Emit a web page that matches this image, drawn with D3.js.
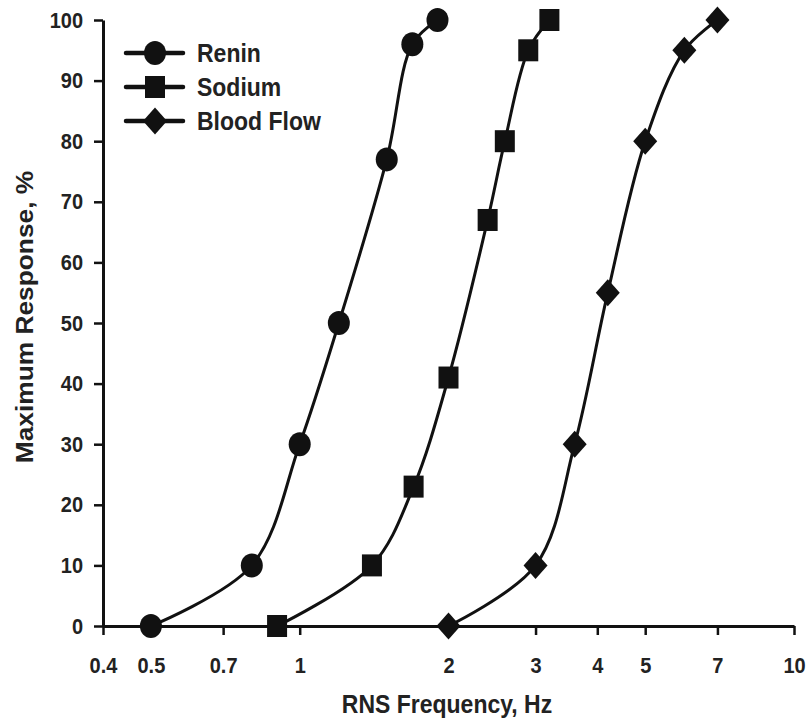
<!DOCTYPE html>
<html>
<head>
<meta charset="utf-8">
<script src="https://cdn.jsdelivr.net/npm/d3@7"></script>
<style>
  html, body { margin: 0; padding: 0; background: #fff; }
  svg { display: block; }
  text { font-family: "Liberation Sans", Arial, sans-serif; fill: #222; }
</style>
</head>
<body>
<div id="chart"></div>
<script>
// ---- data ----
const xTicks = [0.4, 0.5, 0.7, 1, 2, 3, 4, 5, 7, 10];
const xTickLabels = ["0.4", "0.5", "0.7", "1", "2", "3", "4", "5", "7", "10"];
const yTicks = [0, 10, 20, 30, 40, 50, 60, 70, 80, 90, 100];

const seriesNames = ["Renin", "Sodium", "Blood Flow"];
const reninX = [0.5, 0.8, 1.0, 1.2, 1.5, 1.69, 1.9];
const reninY = [0, 10, 30, 50, 77, 96, 100];
const sodiumX = [0.9, 1.4, 1.7, 2.0, 2.4, 2.6, 2.9, 3.2];
const sodiumY = [0, 10, 23, 41, 67, 80, 95, 100];
const bloodX = [2.0, 3.0, 3.6, 4.2, 5.0, 6.0, 7.0];
const bloodY = [0, 10, 30, 55, 80, 95, 100];

const xLabel = "RNS Frequency, Hz";
const yLabel = "Maximum Response, %";

// ---- layout ----
const W = 807, H = 726;
const SY = 1.12; // vertical stretch of the original figure
const svg = d3.select("#chart").append("svg").attr("width", W).attr("height", H);

const x = d3.scaleLog().domain([0.4, 10]).range([103, 794]);
const y = d3.scaleLinear().domain([0, 100]).range([626, 20]);
const ink = "#111";

const series = [
  { name: seriesNames[0], shape: "circle", pts: reninX.map((v, i) => [v, reninY[i]]) },
  { name: seriesNames[1], shape: "square", pts: sodiumX.map((v, i) => [v, sodiumY[i]]) },
  { name: seriesNames[2], shape: "diamond", pts: bloodX.map((v, i) => [v, bloodY[i]]) }
];

function marker(g, shape, cx, cy) {
  if (shape === "circle") {
    g.append("ellipse").attr("cx", cx).attr("cy", cy).attr("rx", 11).attr("ry", 12).attr("fill", ink);
  } else if (shape === "square") {
    g.append("rect").attr("x", cx - 10).attr("y", cy - 11).attr("width", 20).attr("height", 22).attr("fill", ink);
  } else {
    const rx = 12, ry = 13.5;
    g.append("path").attr("d", `M${cx},${cy - ry}L${cx + rx},${cy}L${cx},${cy + ry}L${cx - rx},${cy}Z`).attr("fill", ink);
  }
}

// axes
const xAxis = d3.axisBottom(x).tickValues(xTicks).tickFormat((d, i) => xTickLabels[i]).tickSize(9).tickSizeOuter(0);
const gx = svg.append("g").attr("transform", `translate(0,${y(0)})`).call(xAxis);
gx.select(".domain").attr("stroke", ink).attr("stroke-width", 3);
gx.selectAll(".tick line").attr("stroke", ink).attr("stroke-width", 2.5);
gx.selectAll(".tick text").attr("font-size", 20).attr("font-weight", "bold").attr("fill", "#222")
  .attr("dy", null).attr("y", 47 / SY).attr("transform", `scale(1,${SY})`);

const yAxis = d3.axisLeft(y).tickValues(yTicks).tickSize(9).tickPadding(11).tickSizeOuter(0);
const gy = svg.append("g").attr("transform", `translate(${x(0.4)},0)`).call(yAxis);
gy.select(".domain").attr("stroke", ink).attr("stroke-width", 3);
gy.selectAll(".tick line").attr("stroke", ink).attr("stroke-width", 2.5);
gy.selectAll(".tick text").attr("font-size", 20).attr("font-weight", "bold").attr("fill", "#222")
  .attr("transform", `scale(1,${SY})`);

// axis titles
svg.append("text").attr("transform", `translate(447,713) scale(1,${SY})`).attr("text-anchor", "middle")
  .attr("font-size", 23).attr("font-weight", "bold").text(xLabel);
svg.append("text").attr("transform", `translate(33,317) rotate(-90) scale(${SY},1)`).attr("text-anchor", "middle")
  .attr("font-size", 23.5).attr("font-weight", "bold").text(yLabel);

// lines + markers
const line = d3.line().x(d => x(d[0])).y(d => y(d[1])).curve(d3.curveCatmullRom.alpha(0.5));
series.forEach(s => {
  svg.append("path").attr("d", line(s.pts)).attr("fill", "none").attr("stroke", ink).attr("stroke-width", 3);
  const g = svg.append("g");
  s.pts.forEach(p => marker(g, s.shape, x(p[0]), y(p[1])));
});

// legend
const legY = [53, 87, 121];
series.forEach((s, i) => {
  const g = svg.append("g");
  g.append("line").attr("x1", 126).attr("x2", 183).attr("y1", legY[i]).attr("y2", legY[i])
    .attr("stroke", ink).attr("stroke-width", 4.5).attr("stroke-linecap", "round");
  marker(g, s.shape, 155, legY[i]);
  g.append("text").attr("transform", `translate(197,${legY[i] + 9}) scale(1,${SY})`)
    .attr("font-size", 23).attr("font-weight", "bold").text(s.name);
});
</script>
</body>
</html>
